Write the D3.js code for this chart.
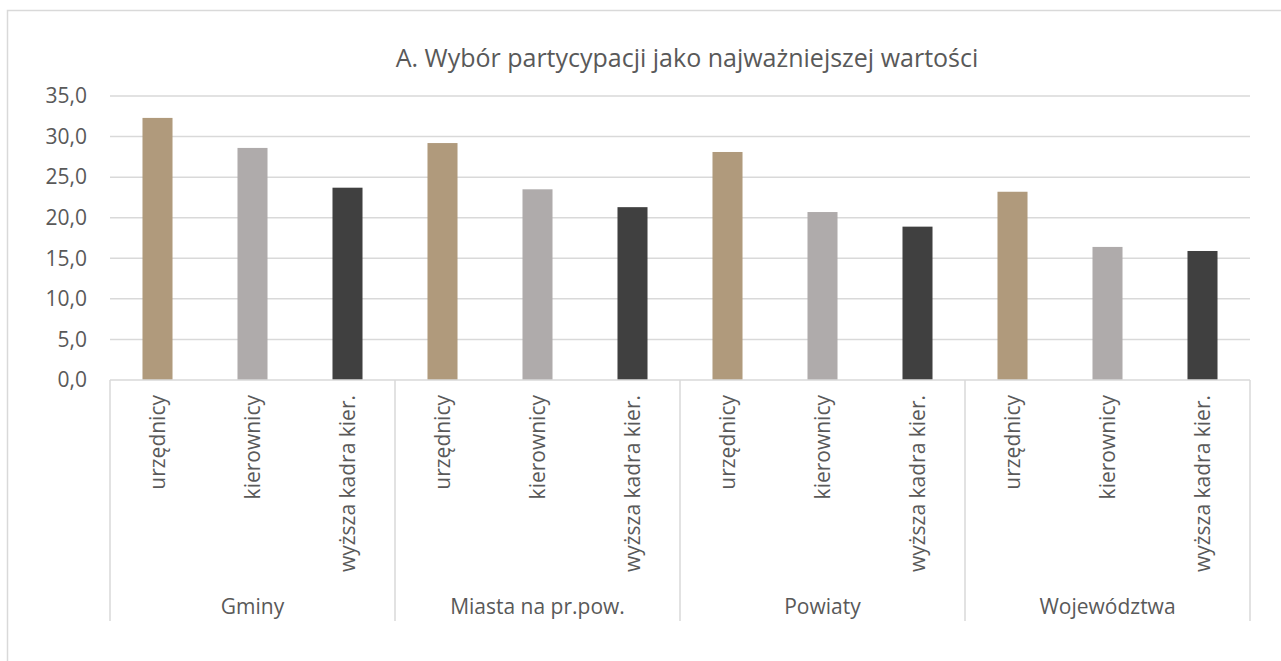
<!DOCTYPE html>
<meta charset="utf-8">
<script src="https://d3js.org/d3.v7.min.js"></script>
<style>
  body { margin: 0; background: #fff; }
  text { font-family: "Open Sans", "Noto Sans", sans-serif; fill: #595959; }
</style>
<div id="my_dataviz"></div>
<script>

// data
var groups = ["Gminy", "Miasta na pr.pow.", "Powiaty", "Województwa"];
var subgroups = ["urzędnicy", "kierownicy", "wyższa kadra kier."];
var urzednicy = [32.3, 29.2, 28.1, 23.2];
var kierownicy = [28.6, 23.5, 20.7, 16.4];
var wyzsza = [23.7, 21.3, 18.9, 15.9];
var yTicks = [0, 5, 10, 15, 20, 25, 30, 35];
var title = "A. Wybór partycypacji jako najważniejszej wartości";

var colors = ["#B09A7C", "#AFABAB", "#404040"];

var W = 1281, H = 661;
var margin = {top: 96, left: 110, right: 31, bottom: 281};
var width = W - margin.left - margin.right,
    height = H - margin.top - margin.bottom;

var svg = d3.select("#my_dataviz")
  .append("svg")
    .attr("width", W)
    .attr("height", H);

// chart border
svg.append("rect")
  .attr("x", 7.5).attr("y", 10.5)
  .attr("width", W).attr("height", H)
  .attr("fill", "none")
  .attr("stroke", "#D9D9D9")
  .attr("stroke-width", 1.5);

// title
svg.append("text")
  .attr("x", 687).attr("y", 67)
  .attr("text-anchor", "middle")
  .style("font-size", "25px")
  .text(title);

var g = svg.append("g")
  .attr("transform", "translate(" + margin.left + "," + margin.top + ")");

var x = d3.scaleBand()
  .domain(groups)
  .range([0, width])
  .padding(0);

var xSub = d3.scaleBand()
  .domain(subgroups)
  .range([0, x.bandwidth()])
  .paddingInner(0.684)
  .paddingOuter(0.342);

var y = d3.scaleLinear()
  .domain([0, 35])
  .range([height, 0]);

var fmt = function(d) { return d3.format(".1f")(d).replace(".", ","); };

// gridlines
g.append("g")
  .selectAll("line")
  .data(yTicks.slice(1))
  .enter().append("line")
    .attr("x1", 0).attr("x2", width)
    .attr("y1", function(d) { return y(d); })
    .attr("y2", function(d) { return y(d); })
    .attr("stroke", "#D9D9D9")
    .attr("stroke-width", 1.5);

// y axis labels
var yAxis = g.append("g")
  .call(d3.axisLeft(y).tickValues(yTicks).tickFormat(fmt).tickSize(0).tickPadding(23));
yAxis.select(".domain").remove();
yAxis.selectAll("text")
  .style("font-size", "21px")
  .attr("fill", "#595959");

// bars
var table = groups.map(function(grp, i) {
  return {group: grp, values: [urzednicy[i], kierownicy[i], wyzsza[i]]};
});

g.append("g")
  .selectAll("g")
  .data(table)
  .enter().append("g")
    .attr("transform", function(d) { return "translate(" + x(d.group) + ",0)"; })
  .selectAll("rect")
  .data(function(d) { return subgroups.map(function(key, j) { return {key: key, value: d.values[j], idx: j}; }); })
  .enter().append("rect")
    .attr("x", function(d) { return xSub(d.key); })
    .attr("y", function(d) { return y(d.value); })
    .attr("width", xSub.bandwidth())
    .attr("height", function(d) { return y(0) - y(d.value); })
    .attr("fill", function(d) { return colors[d.idx]; });

// x axis line
g.append("line")
  .attr("x1", 0).attr("x2", width)
  .attr("y1", y(0)).attr("y2", y(0))
  .attr("stroke", "#D9D9D9")
  .attr("stroke-width", 1.5);

// group separators
var bounds = groups.map(function(d) { return x(d); }).concat([width]);
g.append("g")
  .selectAll("line")
  .data(bounds)
  .enter().append("line")
    .attr("x1", function(d) { return d; })
    .attr("x2", function(d) { return d; })
    .attr("y1", y(0))
    .attr("y2", y(0) + 241)
    .attr("stroke", "#D9D9D9")
    .attr("stroke-width", 1.5);

// rotated sub-category labels
groups.forEach(function(grp) {
  subgroups.forEach(function(key) {
    var cx = x(grp) + xSub(key) + xSub.bandwidth() / 2;
    g.append("text")
      .attr("transform", "translate(" + cx + "," + (y(0) + 15) + ") rotate(-90)")
      .attr("text-anchor", "end")
      .attr("dy", "0.36em")
      .style("font-size", "21px")
      .text(key);
  });
});

// group labels
g.append("g")
  .selectAll("text")
  .data(groups)
  .enter().append("text")
    .attr("x", function(d) { return x(d) + x.bandwidth() / 2; })
    .attr("y", y(0) + 234)
    .attr("text-anchor", "middle")
    .style("font-size", "21px")
    .text(function(d) { return d; });

</script>
